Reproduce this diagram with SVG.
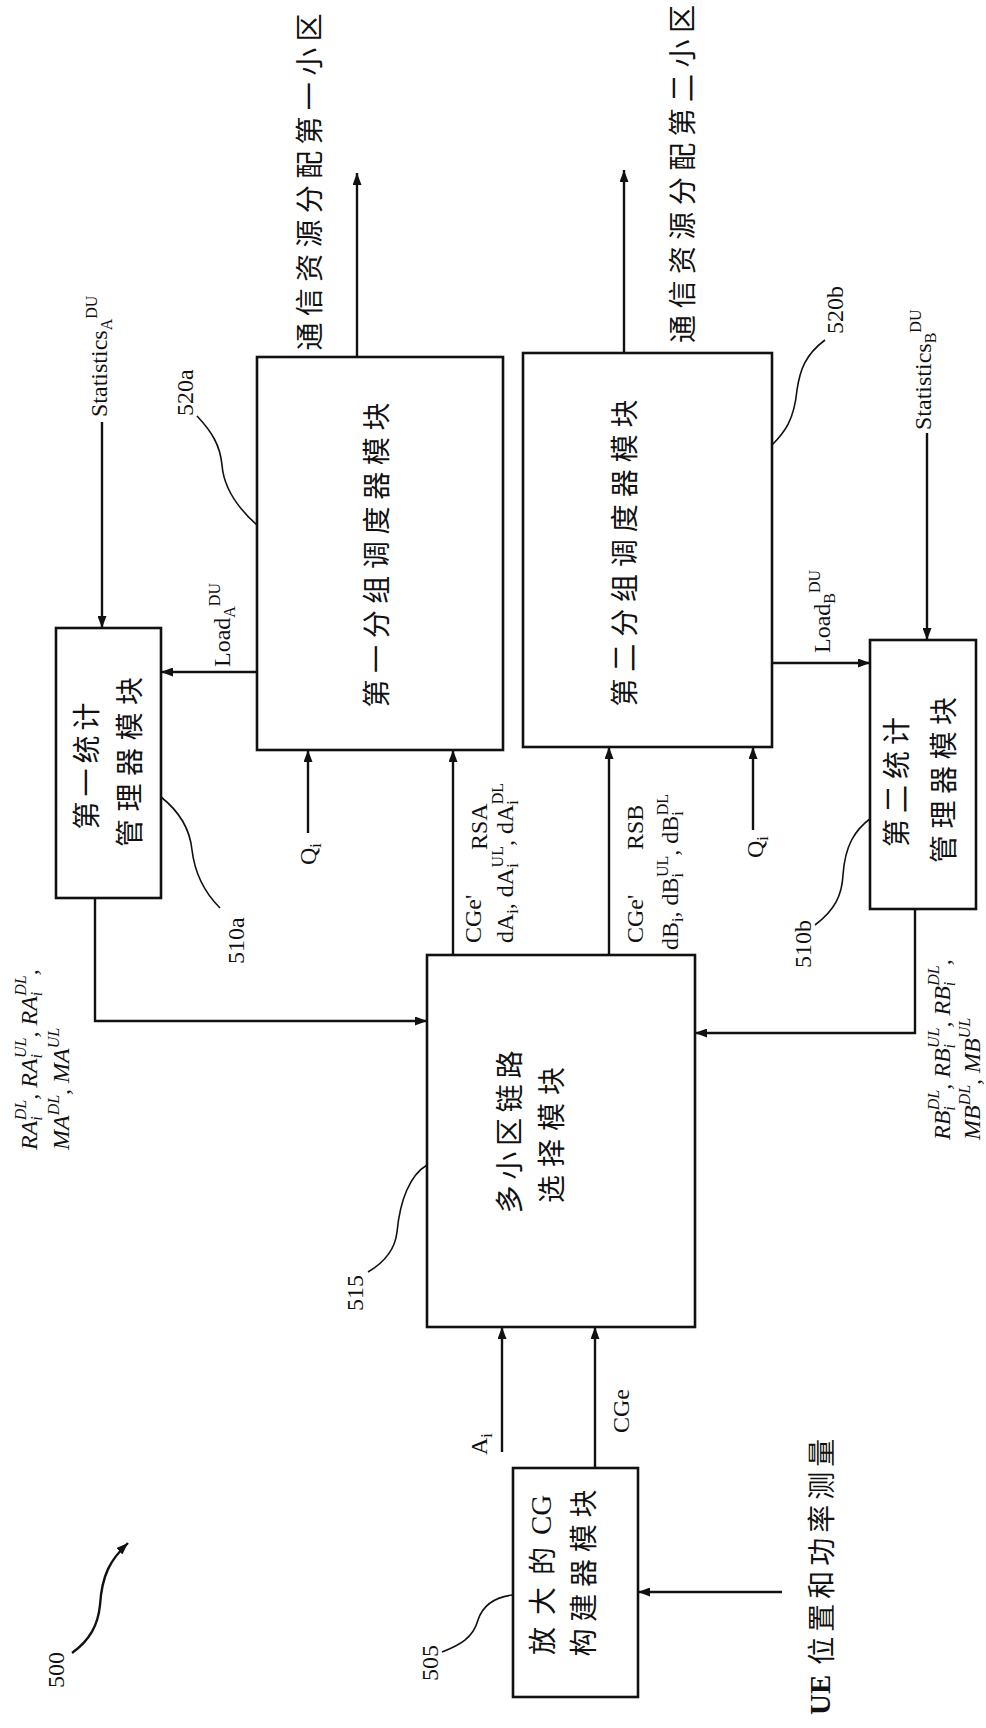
<svg xmlns="http://www.w3.org/2000/svg" width="986" height="1728" viewBox="0 0 986 1728">
<style>
.box{fill:#fff;stroke:#111;stroke-width:2.6}
.ln{fill:none;stroke:#111;stroke-width:2.4}
.ld{fill:none;stroke:#111;stroke-width:1.6}
.cjk{font-family:"Noto Sans CJK SC","Noto Sans",sans-serif;font-size:28px;fill:#111}
.lat{font-family:"Liberation Serif",serif;font-size:24px;fill:#111}
.it{font-style:italic}
.s{font-size:16px}
</style>
<defs>
<marker id="ah" viewBox="0 0 12 9" refX="12" refY="4.5" markerWidth="12" markerHeight="9" markerUnits="userSpaceOnUse" orient="auto"><path d="M0,0 L12,4.5 L0,9 z" fill="#111"/></marker>
</defs>
<rect width="986" height="1728" fill="#fff"/>

<g id="connectors">
<line class="ln" x1="357" y1="357" x2="357" y2="173" marker-end="url(#ah)"/>
<line class="ln" x1="624" y1="353" x2="624" y2="170" marker-end="url(#ah)"/>
<line class="ln" x1="102" y1="422" x2="102" y2="628" marker-end="url(#ah)"/>
<line class="ln" x1="927" y1="433" x2="927" y2="640" marker-end="url(#ah)"/>
<line class="ln" x1="257" y1="672" x2="161" y2="672" marker-end="url(#ah)"/>
<line class="ln" x1="772" y1="663" x2="870" y2="663" marker-end="url(#ah)"/>
<line class="ln" x1="308" y1="833" x2="308" y2="750" marker-end="url(#ah)"/>
<line class="ln" x1="753" y1="830" x2="753" y2="747" marker-end="url(#ah)"/>
<line class="ln" x1="453" y1="955" x2="453" y2="750" marker-end="url(#ah)"/>
<line class="ln" x1="609" y1="955" x2="609" y2="747" marker-end="url(#ah)"/>
<polyline class="ln" points="95,898 95,1021 427,1021" marker-end="url(#ah)"/>
<polyline class="ln" points="915,909 915,1033 695,1033" marker-end="url(#ah)"/>
<line class="ln" x1="502" y1="1452" x2="502" y2="1327" marker-end="url(#ah)"/>
<line class="ln" x1="595" y1="1468" x2="595" y2="1327" marker-end="url(#ah)"/>
<line class="ln" x1="782" y1="1592" x2="638" y2="1592" marker-end="url(#ah)"/>
<path class="ln" d="M72,1653 C90,1640 98,1625 100,1605 C102,1575 110,1560 128,1543" marker-end="url(#ah)"/>
<path class="ld" d="M197,416 C212,432 220,445 222,465 C224,490 240,510 257,525"/>
<path class="ld" d="M825,340 C805,355 800,370 797,390 C794,420 785,432 772,445"/>
<path class="ld" d="M161,797 C180,812 190,830 192,850 C195,875 205,893 220,908"/>
<path class="ld" d="M815,925 C835,910 842,895 843,875 C845,845 855,830 871,818"/>
<path class="ld" d="M442,1652 C460,1645 473,1638 478,1620 C483,1605 495,1597 513,1595"/>
<path class="ld" d="M368,1272 C385,1262 395,1250 397,1232 C400,1200 410,1175 427,1165"/>
</g>

<g id="node-520a">
<rect class="box" x="257" y="357" width="246" height="393"/>
<text class="cjk" transform="translate(375,555) rotate(-90)" text-anchor="middle" dominant-baseline="central" font-size="30" textLength="305" lengthAdjust="spacing">第一分组调度器模块</text>
</g>
<g id="node-520b">
<rect class="box" x="523" y="353" width="249" height="394"/>
<text class="cjk" transform="translate(623,553) rotate(-90)" text-anchor="middle" dominant-baseline="central" font-size="30" textLength="307" lengthAdjust="spacing">第二分组调度器模块</text>
</g>
<g id="node-510a">
<rect class="box" x="56" y="628" width="105" height="270"/>
<text class="cjk" transform="translate(85,766) rotate(-90)" text-anchor="middle" dominant-baseline="central" textLength="127" lengthAdjust="spacing">第一统计</text>
<text class="cjk" transform="translate(128,762) rotate(-90)" text-anchor="middle" dominant-baseline="central" textLength="170" lengthAdjust="spacing">管理器模块</text>
</g>
<g id="node-510b">
<rect class="box" x="870" y="640" width="106" height="269"/>
<text class="cjk" transform="translate(895,782) rotate(-90)" text-anchor="middle" dominant-baseline="central" textLength="130" lengthAdjust="spacing">第二统计</text>
<text class="cjk" transform="translate(942,780) rotate(-90)" text-anchor="middle" dominant-baseline="central" textLength="166" lengthAdjust="spacing">管理器模块</text>
</g>
<g id="node-515">
<rect class="box" x="427" y="955" width="268" height="372"/>
<text class="cjk" transform="translate(508,1132) rotate(-90)" text-anchor="middle" dominant-baseline="central" font-size="26" textLength="163" lengthAdjust="spacing">多小区链路</text>
<text class="cjk" transform="translate(550,1135) rotate(-90)" text-anchor="middle" dominant-baseline="central" font-size="26" textLength="136" lengthAdjust="spacing">选择模块</text>
</g>
<g id="node-505">
<rect class="box" x="513" y="1468" width="125" height="229"/>
<text class="cjk" transform="translate(541,1655) rotate(-90)" dominant-baseline="central" font-size="26"><tspan letter-spacing="12">放大的</tspan><tspan font-family="Liberation Serif, serif" font-size="29">CG</tspan></text>
<text class="cjk" transform="translate(582,1573) rotate(-90)" text-anchor="middle" dominant-baseline="central" font-size="26" textLength="167" lengthAdjust="spacing">构建器模块</text>
</g>

<g id="labels">
<text class="cjk" transform="translate(308,182) rotate(-90)" text-anchor="middle" dominant-baseline="central" font-size="30" textLength="337" lengthAdjust="spacing">通信资源分配第一小区</text>
<text class="cjk" transform="translate(681,174) rotate(-90)" text-anchor="middle" dominant-baseline="central" font-size="30" textLength="338" lengthAdjust="spacing">通信资源分配第二小区</text>
<text class="cjk" transform="translate(820,1715) rotate(-90)" dominant-baseline="central"><tspan font-family="Liberation Serif, serif" font-weight="bold" font-size="29">UE</tspan><tspan dx="10" letter-spacing="5">位置和功率测量</tspan></text>

<text class="lat" transform="translate(107,417) rotate(-90)">Statistics<tspan class="s" dy="5">A</tspan><tspan class="s" dy="-15">DU</tspan></text>
<text class="lat" transform="translate(931,430) rotate(-90)">Statistics<tspan class="s" dy="5">B</tspan><tspan class="s" dy="-15">DU</tspan></text>
<text class="lat" transform="translate(230,667) rotate(-90)">Load<tspan class="s" dy="5">A</tspan><tspan class="s" dy="-15">DU</tspan></text>
<text class="lat" transform="translate(830,653) rotate(-90)">Load<tspan class="s" dy="5">B</tspan><tspan class="s" dy="-15">DU</tspan></text>
<text class="lat" transform="translate(316,865) rotate(-90)">Q<tspan class="s" dy="5">i</tspan></text>
<text class="lat" transform="translate(763,858) rotate(-90)">Q<tspan class="s" dy="5">i</tspan></text>

<text class="lat" font-size="25" transform="translate(481,943) rotate(-90)">CGe'</text>
<text class="lat" font-size="25" transform="translate(487,850) rotate(-90)">RSA</text>
<text class="lat" font-size="25" transform="translate(513,943) rotate(-90)">dA<tspan class="s" dy="5">i</tspan><tspan dy="-5">, dA</tspan><tspan class="s" dy="5">i</tspan><tspan class="s" dx="-4" dy="-15">UL</tspan><tspan dy="10">, dA</tspan><tspan class="s" dy="5">i</tspan><tspan class="s" dx="-4" dy="-15">DL</tspan></text>
<text class="lat" font-size="25" transform="translate(643,943) rotate(-90)">CGe'</text>
<text class="lat" font-size="25" transform="translate(643,850) rotate(-90)">RSB</text>
<text class="lat" font-size="25" transform="translate(678,950) rotate(-90)">dB<tspan class="s" dy="5">i</tspan><tspan dy="-5">, dB</tspan><tspan class="s" dy="5">i</tspan><tspan class="s" dx="-4" dy="-15">UL</tspan><tspan dy="10">, dB</tspan><tspan class="s" dy="5">i</tspan><tspan class="s" dx="-4" dy="-15">DL</tspan></text>

<text class="lat" font-size="25" transform="translate(629,1433) rotate(-90)">CGe</text>
<text class="lat" transform="translate(487,1455) rotate(-90)">A<tspan class="s" dy="5">i</tspan></text>

<text class="lat it" font-size="25" transform="translate(37,1150) rotate(-90)">RA<tspan class="s" dy="5">i</tspan><tspan class="s" dx="-4" dy="-16">DL</tspan><tspan dy="11">, RA</tspan><tspan class="s" dy="5">i</tspan><tspan class="s" dx="-4" dy="-16">UL</tspan><tspan dy="11">, RA</tspan><tspan class="s" dy="5">i</tspan><tspan class="s" dx="-4" dy="-16">DL</tspan><tspan dy="11">,</tspan></text>
<text class="lat it" font-size="25" transform="translate(69,1150) rotate(-90)">MA<tspan class="s" dy="-10">DL</tspan><tspan dy="10">, MA</tspan><tspan class="s" dy="-10">UL</tspan></text>
<text class="lat it" font-size="25" transform="translate(950,1140) rotate(-90)">RB<tspan class="s" dy="5">i</tspan><tspan class="s" dx="-4" dy="-16">DL</tspan><tspan dy="11">, RB</tspan><tspan class="s" dy="5">i</tspan><tspan class="s" dx="-4" dy="-16">UL</tspan><tspan dy="11">, RB</tspan><tspan class="s" dy="5">i</tspan><tspan class="s" dx="-4" dy="-16">DL</tspan><tspan dy="11">,</tspan></text>
<text class="lat it" font-size="25" transform="translate(980,1140) rotate(-90)">MB<tspan class="s" dy="-10">DL</tspan><tspan dy="10">, MB</tspan><tspan class="s" dy="-10">UL</tspan></text>

<text class="lat" transform="translate(193,416) rotate(-90)">520a</text>
<text class="lat" transform="translate(843,334) rotate(-90)">520b</text>
<text class="lat" transform="translate(244,964) rotate(-90)">510a</text>
<text class="lat" transform="translate(811,968) rotate(-90)">510b</text>
<text class="lat" transform="translate(438,1681) rotate(-90)">505</text>
<text class="lat" transform="translate(363,1311) rotate(-90)">515</text>
<text class="lat" transform="translate(64,1688) rotate(-90)">500</text>
</g>
</svg>
